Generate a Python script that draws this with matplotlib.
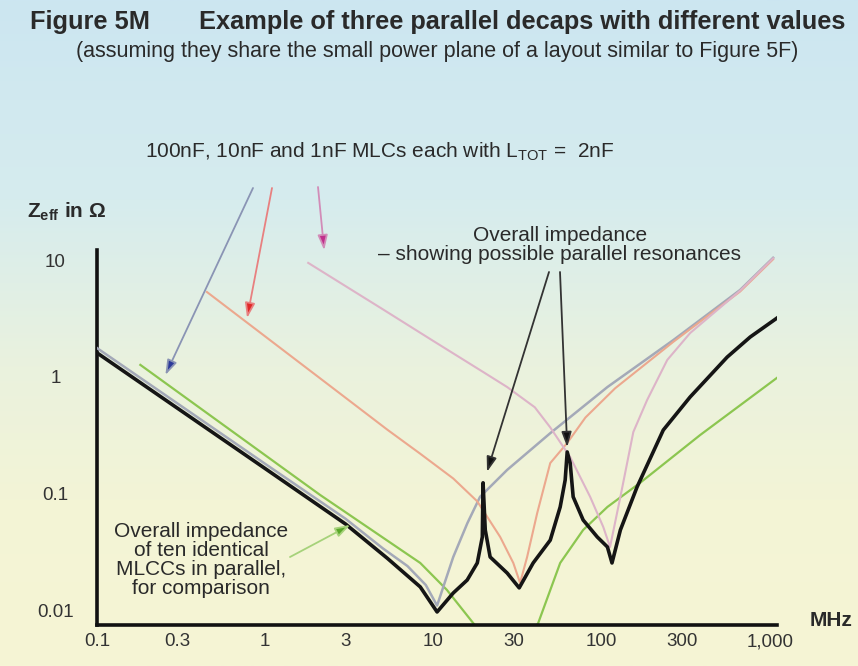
import numpy as np
import matplotlib.pyplot as plt
from matplotlib.ticker import NullLocator

plt.rcParams['font.family'] = ['Liberation Sans', 'DejaVu Sans']
plt.rcParams['mathtext.fontset'] = 'custom'
plt.rcParams['mathtext.rm'] = 'Liberation Sans'
plt.rcParams['mathtext.bf'] = 'Liberation Sans:bold'
plt.rcParams['mathtext.it'] = 'Liberation Sans:italic'

# frequency in MHz, impedance in ohm
f_100n = [0.1, 1, 3, 5, 7, 9, 10.5, 13.1, 15.9, 18.9, 27.4, 49.4, 108, 266, 664, 1043]
z_100n = [1.77, 0.18, 0.061, 0.034, 0.024, 0.0165, 0.011, 0.0287, 0.056, 0.094, 0.16, 0.33, 0.82, 2.07, 5.57, 10.5]

f_10n = [0.45, 2.34, 5.31, 8.34, 13.1, 18.2, 24.9, 29.8, 32.7, 36, 41.3, 49.4, 62.3, 80, 120, 266, 664, 1043]
z_10n = [5.35, 0.873, 0.354, 0.22, 0.135, 0.086, 0.0426, 0.0255, 0.0172, 0.0287, 0.068, 0.183, 0.272, 0.45, 0.8, 2.0, 5.4, 10.2]

f_1n = [1.8, 5, 10, 20, 27.4, 40, 49.4, 64.9, 85.3, 102, 112, 129, 154, 186, 245, 335, 664, 1043]
z_1n = [9.5, 3.8, 2.03, 1.09, 0.82, 0.55, 0.37, 0.206, 0.094, 0.052, 0.035, 0.094, 0.338, 0.635, 1.4, 2.38, 5.5, 10.4]

f_total = [0.1, 1, 3, 5.31, 8.34, 10.5, 13.1, 15.85, 18.2, 19.5, 19.7, 20.3, 21.7, 27.4, 32.3,
           39.1, 49.4, 56.6, 60.6, 62.3, 64.9, 67.6, 77.5, 94, 108, 115, 129, 162, 232, 335,
           556, 762, 1100]
z_total = [1.61, 0.164, 0.055, 0.028, 0.0159, 0.0097, 0.0141, 0.0182, 0.0255, 0.0426, 0.124,
           0.0489, 0.0287, 0.0209, 0.0156, 0.0255, 0.040, 0.077, 0.131, 0.228, 0.183, 0.094,
           0.0595, 0.0426, 0.035, 0.0255, 0.0489, 0.114, 0.351, 0.674, 1.48, 2.2, 3.2]

f_ten = [0.181, 2.12, 8.34, 12, 17.2, 20, 35, 41.9, 56.6, 77.5, 108, 169, 384, 1117]
z_ten = [1.27, 0.0975, 0.0255, 0.015, 0.0078, 0.006, 0.005, 0.0078, 0.0255, 0.0489, 0.077, 0.124, 0.318, 1.0]

x_ticks = [0.1, 0.3, 1, 3, 10, 30, 100, 300, 1000]
x_labels = ['0.1', '0.3', '1', '3', '10', '30', '100', '300', '1,000']
y_ticks = [0.01, 0.1, 1, 10]
y_labels = ['0.01', '0.1', '1', '10']

W, H = 858, 666
fig = plt.figure(figsize=(W / 100, H / 100), dpi=100)


def px(x, y):
    # pixel position measured from top left -> figure fraction
    return x / W, 1 - y / H


# background: light blue at the top fading into pale yellow
bg = fig.add_axes([0, 0, 1, 1], zorder=-10)
stops_y = [0.0, 0.3, 0.55, 0.75, 1.0]
stops_c = np.array([[204, 230, 241], [214, 236, 238], [234, 242, 222], [243, 244, 214], [246, 245, 212]]) / 255
yy = np.linspace(0, 1, 300)
grad = np.stack([np.interp(yy, stops_y, stops_c[:, k]) for k in range(3)], axis=1)[:, None, :]
bg.imshow(grad, aspect='auto', extent=[0, 1, 0, 1])
bg.axis('off')

ax = fig.add_axes([97 / W, 1 - 625 / H, 680 / W, 375 / H])
ax.patch.set_alpha(0)
ax.set_xscale('log')
ax.set_yscale('log')

ax.plot(f_ten, z_ten, color='#8cc650', lw=1.6, zorder=2)
ax.plot(f_100n, z_100n, color='#a4a9b8', lw=1.8, zorder=3)
ax.plot(f_10n, z_10n, color='#eca88e', lw=1.5, zorder=3)
ax.plot(f_1n, z_1n, color='#ddb4c8', lw=1.5, zorder=3)
ax.plot(f_total, z_total, color='#151515', lw=2.6, zorder=4)

ax.set_xlim(0.1, 1100)
ax.set_ylim(0.0075, 12.25)
for s in ['top', 'right']:
    ax.spines[s].set_visible(False)
for s in ['left', 'bottom']:
    ax.spines[s].set_linewidth(2.6)
    ax.spines[s].set_color('#111111')

ax.set_xticks(x_ticks, x_labels)
ax.set_yticks(y_ticks, y_labels)
ax.xaxis.set_minor_locator(NullLocator())
ax.yaxis.set_minor_locator(NullLocator())
ax.tick_params(axis='both', length=0, labelsize=13.5, labelcolor='#333333')
ax.tick_params(axis='x', pad=6)
ax.tick_params(axis='y', pad=30)
for lbl in ax.get_yticklabels():
    lbl.set_ha('center')

txt = '#2a2a2a'
fig.text(*px(30, 22), 'Figure 5M', fontsize=18.3, fontweight='bold', color=txt, ha='left', va='center')
fig.text(*px(845, 22), 'Example of three parallel decaps with different values', fontsize=18.3,
         fontweight='bold', color=txt, ha='right', va='center')
fig.text(*px(437, 51), '(assuming they share the small power plane of a layout similar to Figure 5F)',
         fontsize=15.5, color=txt, ha='center', va='center')
fig.text(*px(145, 152), r'100nF, 10nF and 1nF MLCs each with L$_{\mathrm{TOT}}$ =  2nF', fontsize=15,
         color=txt, ha='left', va='center')
fig.text(*px(27, 212), r'$\mathbf{Z_{eff}}$ in Ω', fontsize=15, fontweight='bold', color=txt,
         ha='left', va='center')
fig.text(*px(560, 245), 'Overall impedance\n– showing possible parallel resonances', fontsize=15,
         color=txt, ha='center', va='center', linespacing=1.0)
fig.text(*px(201, 560), 'Overall impedance\nof ten identical\nMLCCs in parallel,\nfor comparison',
         fontsize=15, color=txt, ha='center', va='center', linespacing=1.0)
fig.text(*px(831, 620), 'MHz', fontsize=15, fontweight='bold', color=txt, ha='center', va='center')

# arrows: (tip in data, tail in pixels, shaft colour, head colour)
arrows = [((0.255, 1.04), (253, 188), '#8a94b4', '#2c3a9a'),
          ((0.78, 3.2), (272, 188), '#e88080', '#e02828'),
          ((2.24, 12.2), (318, 187), '#d28cb8', '#c0308c'),
          ((20.8, 0.154), (549, 272), '#333333', '#111111'),
          ((62.3, 0.251), (560, 272), '#333333', '#111111'),
          ((3.2, 0.054), (290, 557), '#a6d27a', '#5aa82a')]
for tip, tail, c_line, c_head in arrows:
    ax.annotate('', xy=tip, xycoords='data', xytext=px(*tail), textcoords='figure fraction',
                arrowprops=dict(arrowstyle='-|>,head_length=0.9,head_width=0.3', edgecolor=c_line,
                                facecolor=c_head, lw=1.3, shrinkA=0, shrinkB=0),
                annotation_clip=False, zorder=5)

fig.savefig('out.png', dpi=100)
